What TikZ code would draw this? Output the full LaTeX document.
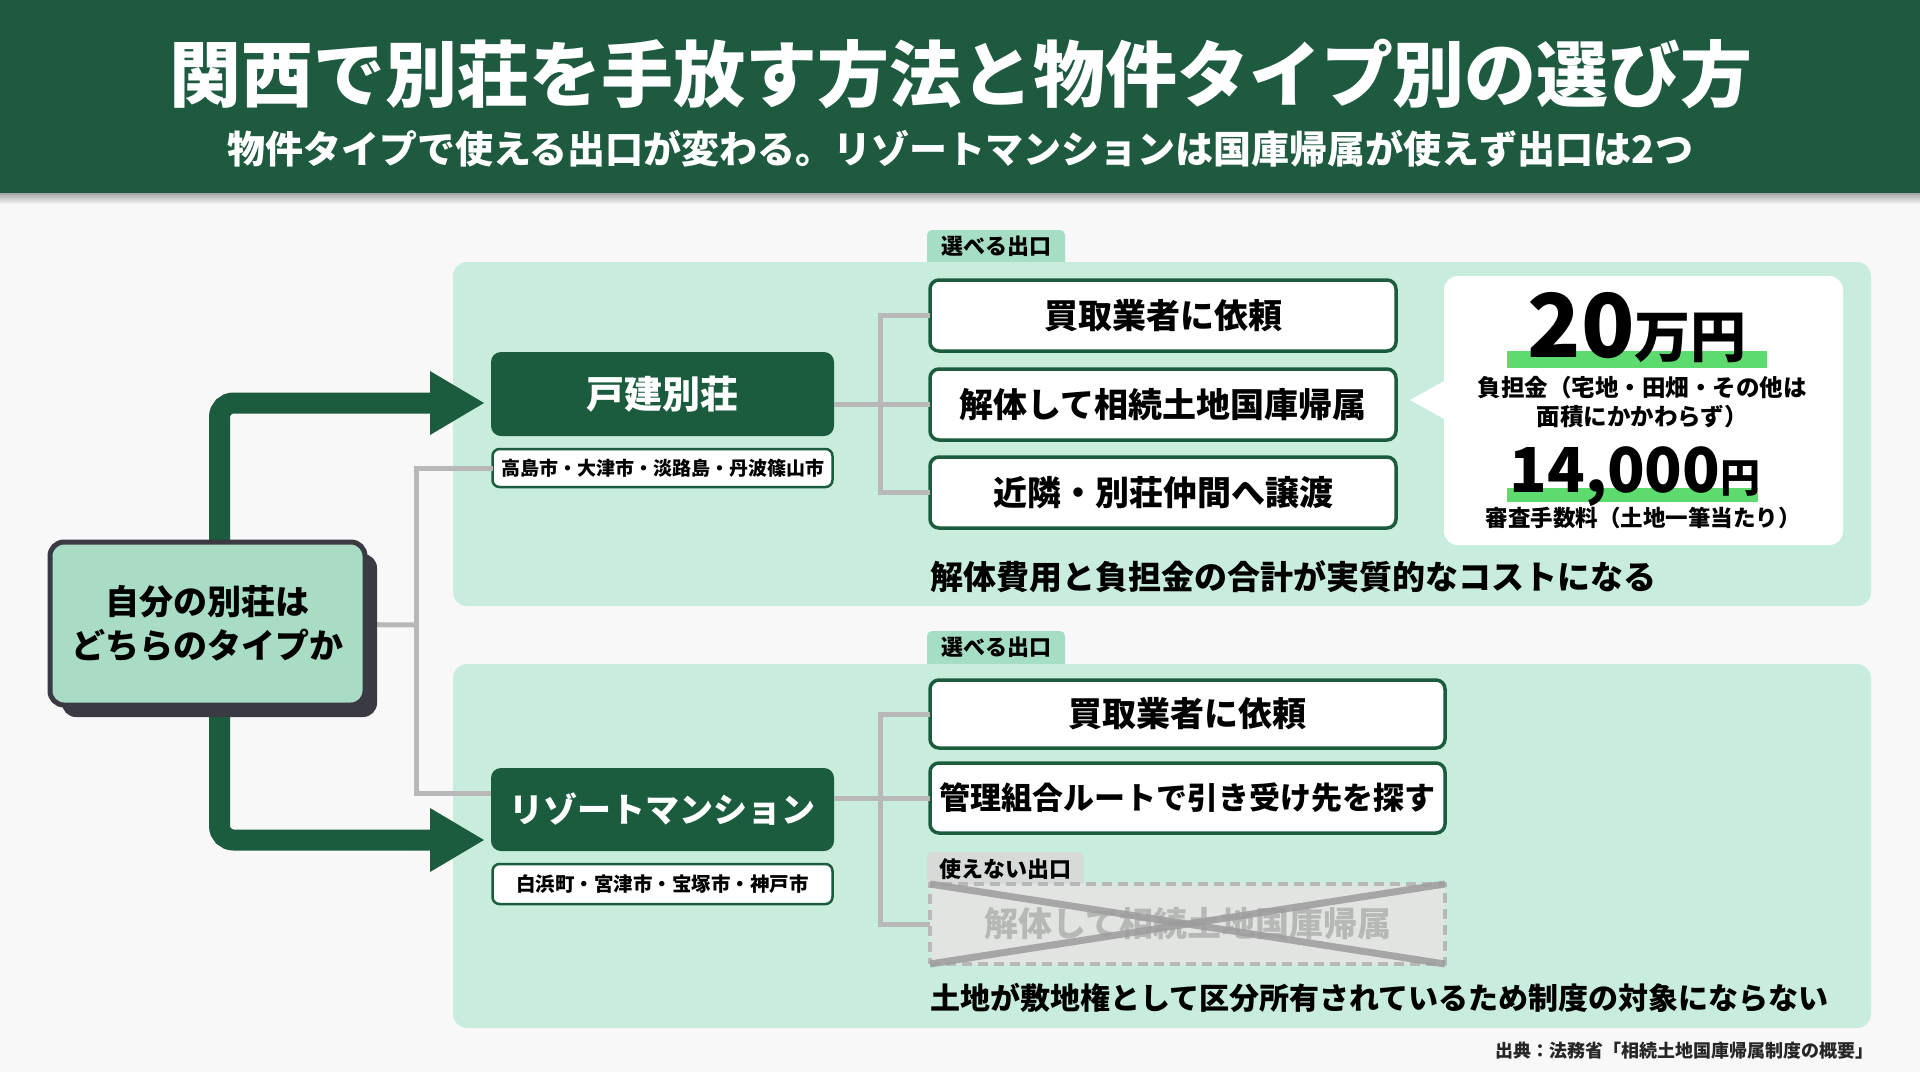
\documentclass[tikz,border=0pt]{standalone}
\usepackage{fontspec}
\setmainfont{Noto Sans CJK JP}
\usetikzlibrary{calc}
\definecolor{hdr}{HTML}{1D5A3F}
\definecolor{dg}{HTML}{1B5C3F}
\definecolor{panel}{HTML}{C9EDDD}
\definecolor{tabc}{HTML}{A6DDC5}
\definecolor{lbfill}{HTML}{A8DCC5}
\definecolor{lbborder}{HTML}{3A3A42}
\definecolor{connc}{HTML}{B8B8B8}
\definecolor{hl}{HTML}{5EDB6E}
\definecolor{bg}{HTML}{F7F8F7}
\definecolor{xgray}{HTML}{9C9C9C}
\definecolor{xfill}{HTML}{E2E4E2}
\definecolor{xtext}{HTML}{B6B8B6}
\definecolor{ngtab}{HTML}{D6DBD7}
\newcommand\fsz[2]{\fontsize{#1pt}{#2pt}\selectfont}
\tikzset{
 box/.style={inner sep=0pt, outer sep=0pt},
 greenbox/.style={box, fill=dg, rounded corners=10pt, text=white, font=\fsz{38}{44}\bfseries, minimum width=343pt},
 tagbox/.style={box, fill=white, draw=dg, line width=2.5pt, rounded corners=7pt, minimum width=340pt, font=\fsz{19}{22}\bfseries},
 optbox/.style={box, fill=white, draw=dg, line width=3.5pt, rounded corners=9pt, font=\fsz{34}{40}\bfseries},
 tabbox/.style={box, fill=tabc, rounded corners=5pt, font=\fsz{22}{26}\bfseries, minimum height=36pt},
 conn/.style={draw=connc, line width=5pt},
 bigarrow/.style={draw=dg, line width=21pt, rounded corners=14pt},
 note/.style={font=\fsz{33}{38}\bfseries, anchor=west, inner sep=0pt},
 panelbox/.style={fill=panel, rounded corners=14pt},
}
\begin{document}
\begin{tikzpicture}[x=1pt,y=-1pt]
\useasboundingbox (0,0) rectangle (1920,1072);
\fill[bg] (0,0) rectangle (1920,1072);
% header
\shade[top color=black!45, bottom color=bg] (0,190) rectangle (1920,204);
\fill[hdr] (0,0) rectangle (1920,193);
\node[box, text=white, font=\fsz{72}{80}\bfseries] (title) at (961,74) {関西で別荘を手放す方法と物件タイプ別の選び方};
\node[box, text=white, font=\fsz{38}{42}\bfseries] (subtitle) at (960,149) {物件タイプで使える出口が変わる。リゾートマンションは国庫帰属が使えず出口は2つ};

% tabs and panels
\node[tabbox, minimum width=138pt, minimum height=40pt] (tab1) at (996,250) {};
\node[tabbox, minimum width=138pt, minimum height=40pt] (tab2) at (996,651) {};
\fill[panelbox] (453,262) rectangle (1871,606);
\fill[panelbox] (453,664) rectangle (1871,1028);
\node[box, font=\fsz{22}{26}\bfseries] (tab1t) at (996,246) {選べる出口};
\node[box, font=\fsz{22}{26}\bfseries] (tab2t) at (996,647) {選べる出口};

% arrows from the decision box
\coordinate (lbc) at (207.5,623.5);
\coordinate (a1base) at (430,403);
\coordinate (a2base) at (430,840);
\draw[bigarrow] ($(lbc)+(12,-60)$) |- ($(a1base)+(2,0)$);
\draw[bigarrow] ($(lbc)+(12,60)$) |- ($(a2base)+(2,0)$);
\fill[dg] (430,371) -- (484,403) -- (430,435) -- cycle;
\fill[dg] (430,808) -- (484,840) -- (430,872) -- cycle;

% type boxes
\node[greenbox, minimum height=84pt] (kodate) at (662.5,394) {戸建別荘};
\node[tagbox, minimum height=38pt] (tag1) at (662.5,468) {高島市・大津市・淡路島・丹波篠山市};
\node[greenbox, minimum height=83pt, font=\fsz{34}{40}\bfseries] (resort) at (662.5,809.5) {リゾートマンション};
\node[tagbox, minimum height=40pt, font=\fsz{19.5}{22}\bfseries] (tag2) at (662.5,884) {白浜町・宮津市・宝塚市・神戸市};

% option boxes (upper)
\node[optbox, minimum width=466pt, minimum height=71pt] (o1) at (1163,315.5) {買取業者に依頼};
\node[optbox, minimum width=466pt, minimum height=71pt] (o2) at (1163,404.5) {解体して相続土地国庫帰属};
\node[optbox, minimum width=466pt, minimum height=71pt] (o3) at (1163,492.5) {近隣・別荘仲間へ譲渡};

% option boxes (lower)
\node[optbox, minimum width=515pt, minimum height=68pt] (p1) at (1187.5,714) {買取業者に依頼};
\node[optbox, minimum width=515pt, minimum height=70pt, font=\fsz{31}{36}\bfseries] (p2) at (1187.5,798) {管理組合ルートで引き受け先を探す};
\node[box, fill=ngtab, rounded corners=5pt, minimum width=157pt, minimum height=34pt, font=\fsz{22}{26}\bfseries] (ngtab) at (1005.5,869) {使えない出口};
\node[box, fill=xfill, draw=connc, line width=4pt, dash pattern=on 10pt off 6pt, minimum width=515pt, minimum height=80pt, text=xtext, font=\fsz{34}{40}\bfseries] (xbox) at (1187.5,924) {解体して相続土地国庫帰属};
\draw[xgray, line width=7pt, opacity=0.85] (xbox.north west) -- (xbox.south east);
\draw[xgray, line width=7pt, opacity=0.85] (xbox.south west) -- (xbox.north east);

% connectors
\coordinate (jL) at (416,625);
\draw[conn] (jL) -- (lbc);
\draw[conn] (tag1.west) -| (jL);
\draw[conn] ([yshift=16pt]resort.west) -| (jL);
\draw[conn] (o2.west -| kodate.east) -- (o2.west);
\draw[conn] (o1.west) -- ++(-50,0) |- (o3.west);
\draw[conn] (p2.west -| resort.east) -- (p2.west);
\draw[conn] (p1.west) -- ++(-50,0) |- (xbox.west);

% left box
\fill[lbborder, rounded corners=14pt] (62,554) rectangle (377,717);
\node[box, fill=lbfill, draw=lbborder, line width=5pt, rounded corners=14pt, minimum width=315pt, minimum height=163pt, align=center, font=\fsz{34}{44}\bfseries] (lb) at (lbc) {自分の別荘は\\どちらのタイプか};

% callout
\fill[white] (1446,380) -- (1410,400) -- (1446,420) -- cycle;
\node[box, fill=white, rounded corners=14pt, minimum width=399pt, minimum height=269pt] (callout) at (1643.5,410.5) {};
\fill[hl] (1507,351) rectangle (1767,368);
\fill[hl] (1507,488) rectangle (1758,502);
\node[box, anchor=base, font=\bfseries] (big1) at (1637,357) {{\fsz{88}{90}20}{\fsz{56}{60}万円}};
\node[box, align=center, font=\fsz{23.5}{29}\bfseries] (cap1) at (1642,402) {負担金（宅地・田畑・その他は\\面積にかかわらず）};
\node[box, anchor=base, font=\bfseries] (big2) at (1635,492) {{\fsz{62}{64}14,000}{\fsz{40}{44}円}};
\node[box, font=\fsz{22.5}{26}\bfseries] (cap2) at (1643,518) {審査手数料（土地一筆当たり）};

% notes
\node[note] (note1) at (930,577) {解体費用と負担金の合計が実質的なコストになる};
\node[note, font=\fsz{30}{36}\bfseries] (note2) at (930,998) {土地が敷地権として区分所有されているため制度の対象にならない};
\node[box, anchor=east, text=black!85, font=\fsz{18}{22}\bfseries] (source) at (1873,1051) {出典：法務省「相続土地国庫帰属制度の概要」};
\end{tikzpicture}
\end{document}
